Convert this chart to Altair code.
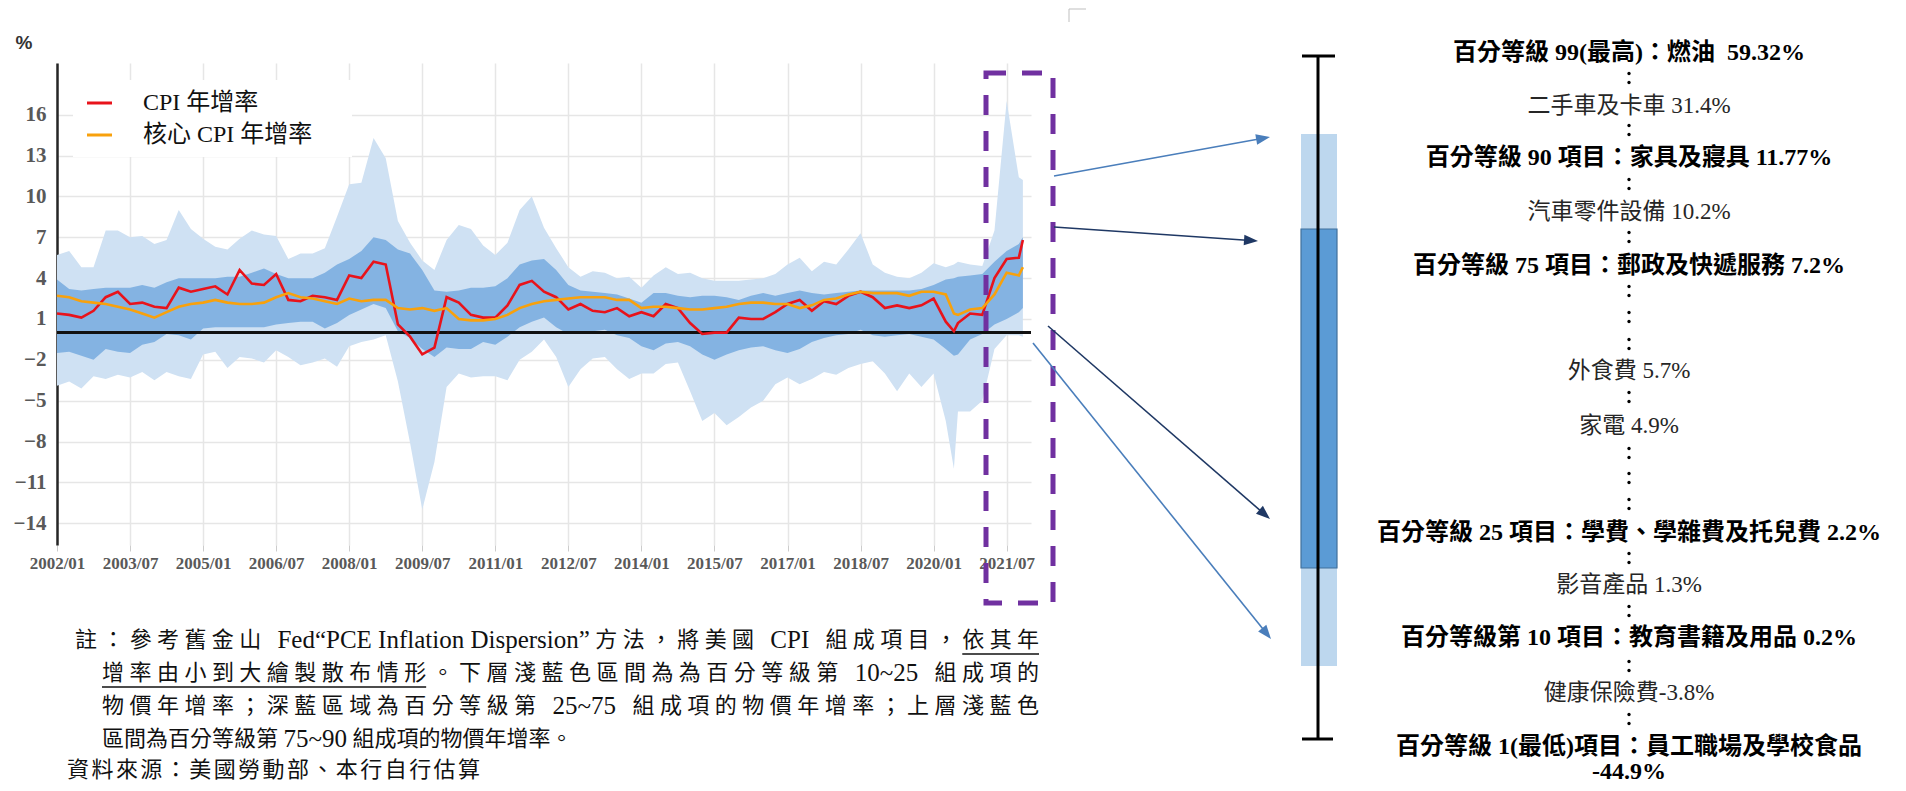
import math
import altair as alt
import pandas as pd

# ---------------- data ----------------
MONTHS = [
    "2002-01", "2002-04", "2002-07", "2002-10", "2003-01", "2003-04", "2003-07", "2003-10",
    "2004-01", "2004-04", "2004-07", "2004-10", "2005-01", "2005-04", "2005-07", "2005-10",
    "2006-01", "2006-04", "2006-07", "2006-10", "2007-01", "2007-04", "2007-07", "2007-10",
    "2008-01", "2008-04", "2008-07", "2008-10", "2009-01", "2009-04", "2009-07", "2009-10",
    "2010-01", "2010-04", "2010-07", "2010-10", "2011-01", "2011-04", "2011-07", "2011-10",
    "2012-01", "2012-04", "2012-07", "2012-10", "2013-01", "2013-04", "2013-07", "2013-10",
    "2014-01", "2014-04", "2014-07", "2014-10", "2015-01", "2015-04", "2015-07", "2015-10",
    "2016-01", "2016-04", "2016-07", "2016-10", "2017-01", "2017-04", "2017-07", "2017-10",
    "2018-01", "2018-04", "2018-07", "2018-10", "2019-01", "2019-04", "2019-07", "2019-10",
    "2020-01", "2020-04", "2020-06", "2020-07", "2020-10",
    "2021-01", "2021-04", "2021-07", "2021-10", "2021-11",
]

P90 = [5.7, 6.0, 4.8, 4.8, 7.5, 7.5, 7.0, 7.1, 6.5, 6.8,
       9.0, 7.6, 6.9, 6.3, 6.1, 6.9, 7.5, 7.2, 7.1, 5.4,
       5.8, 5.8, 6.2, 8.5, 10.9, 11.0, 14.3, 12.8, 8.2, 6.6,
       5.3, 4.6, 6.8, 7.9, 7.6, 6.4, 5.7, 6.6, 9.0, 10.0,
       7.7, 6.2, 4.8, 4.1, 4.5, 4.4, 4.0, 4.1, 3.3, 4.2,
       4.8, 4.3, 4.4, 4.0, 3.8, 3.8, 3.8, 3.9, 4.0, 4.3,
       5.0, 5.5, 4.5, 5.2, 5.0, 6.1, 7.3, 5.0, 4.4, 4.1,
       4.0, 4.4, 5.1, 4.8, 5.0, 5.2, 5.0, 4.9, 7.5, 17.0, 11.4, 11.2]

P75 = [3.9, 3.2, 3.1, 3.2, 3.3, 3.3, 3.3, 3.5, 3.3, 3.7,
       4.0, 4.0, 4.0, 4.0, 4.1, 4.1, 4.4, 4.7, 4.3, 4.0,
       4.0, 4.0, 4.4, 5.0, 5.4, 6.0, 7.0, 6.8, 6.1, 5.8,
       4.6, 3.1, 3.0, 3.1, 3.3, 3.3, 3.4, 4.0, 5.0, 5.3,
       5.4, 4.6, 3.5, 3.1, 3.0, 2.9, 2.8, 2.5, 2.2, 2.9,
       2.9, 2.7, 2.6, 2.7, 2.7, 2.6, 2.4, 2.7, 2.9, 2.7,
       2.9, 3.1, 2.9, 2.8, 2.9, 3.0, 3.1, 3.1, 3.1, 3.1,
       3.1, 3.2, 3.5, 3.9, 4.0, 4.1, 4.2, 4.3, 5.2, 6.0, 6.5, 7.0]

P25 = [-1.5, -1.4, -1.7, -2.0, -1.2, -1.4, -1.5, -0.9, -0.7, -0.1,
       -0.2, -0.5, 0.3, 0.4, 0.4, 0.4, 0.4, 0.4, 0.6, 0.7,
       0.8, 0.8, 0.3, 0.7, 1.3, 1.7, 2.1, 1.8, 0.1, -0.4,
       -1.2, -1.8, -1.1, -1.2, -1.2, -0.7, -0.9, -0.3, 0.4, 0.8,
       1.1, 0.4, -0.1, -0.1, 0.1, 0.2, -0.2, -0.4, -1.0, -1.3,
       -0.8, -0.7, -1.0, -1.6, -2.0, -1.6, -1.3, -1.1, -1.0, -1.3,
       -1.5, -1.2, -0.7, -0.4, -0.2, -0.1, 0.2, -0.2, -0.3, -0.2,
       -0.1, -0.3, -0.5, -1.2, -1.7, -1.6, -0.5, -0.1, 0.6, 1.0, 1.5, 1.8]

P10 = [-3.9, -3.6, -4.1, -3.2, -3.4, -3.1, -3.3, -2.9, -3.5, -2.9,
       -3.2, -3.4, -1.6, -1.4, -2.6, -1.8, -1.9, -2.2, -1.3, -1.8,
       -2.4, -2.2, -1.9, -2.5, -1.0, -0.7, -0.5, -0.2, -3.6, -8.1,
       -13.0, -9.5, -4.0, -3.0, -3.3, -3.2, -3.2, -3.5, -2.0, -1.4,
       -0.5, -1.8, -4.0, -2.7, -1.9, -1.8, -2.7, -3.4, -3.0, -3.0,
       -2.3, -2.2, -4.3, -6.5, -5.9, -6.8, -6.2, -5.5, -5.0, -3.8,
       -3.3, -3.8, -3.4, -2.9, -3.1, -2.6, -2.3, -2.1, -3.0, -4.3,
       -3.0, -4.0, -3.0, -6.5, -10.0, -5.8, -5.8, -5.0, -1.2, -0.2, -0.2, -0.3]

CPI = [1.4, 1.3, 1.1, 1.6, 2.6, 3.0, 2.1, 2.2, 1.9, 1.8,
       3.3, 3.0, 3.2, 3.4, 2.8, 4.6, 3.6, 3.5, 4.3, 2.4,
       2.3, 2.7, 2.6, 2.4, 4.2, 4.0, 5.2, 5.0, 0.6, -0.3,
       -1.6, -1.1, 2.6, 2.2, 1.3, 1.1, 1.1, 2.0, 3.5, 3.8,
       3.0, 2.6, 1.7, 2.1, 1.6, 1.5, 1.8, 1.2, 1.5, 1.2,
       2.1, 1.8, 0.7, -0.1, 0.0, 0.0, 1.1, 1.0, 1.0, 1.5,
       2.1, 2.4, 1.6, 2.3, 2.1, 2.7, 3.0, 2.6, 1.8, 2.0,
       1.8, 2.0, 2.5, 0.8, 0.1, 0.7, 1.4, 1.3, 4.0, 5.4, 5.5, 6.8]

CORE = [2.7, 2.6, 2.3, 2.2, 2.1, 1.9, 1.7, 1.4, 1.1, 1.5,
        1.9, 2.1, 2.2, 2.4, 2.2, 2.1, 2.1, 2.2, 2.6, 2.9,
        2.6, 2.5, 2.3, 2.1, 2.5, 2.3, 2.4, 2.4, 1.8, 1.7,
        1.8, 1.6, 1.8, 1.0, 0.9, 0.9, 1.0, 1.3, 1.8, 2.1,
        2.3, 2.4, 2.5, 2.6, 2.6, 2.6, 2.4, 2.4, 1.8, 1.9,
        1.9, 1.8, 1.7, 1.7, 1.8, 1.9, 2.1, 2.2, 2.2, 2.1,
        2.1, 1.8, 2.0, 2.4, 2.5, 2.8, 3.0, 2.9, 2.9, 2.9,
        2.7, 3.0, 3.0, 2.8, 1.4, 1.3, 1.7, 1.8, 2.8, 4.4, 4.2, 4.8]

Y_TICKS = [-14, -11, -8, -5, -2, 1, 4, 7, 10, 13, 16]
X_TICKS = [0, 18, 36, 54, 72, 90, 108, 126, 144, 162, 180, 198, 216, 234]  # months since 2002/01

LEGEND_LABELS = ["CPI 年增率", "核心 CPI 年增率"]
UNIT_LABEL = "%"

RIGHT_BOLD = [
    "百分等級 99(最高)：燃油 \u00a059.32%",
    "百分等級 90 項目：家具及寢具 11.77%",
    "百分等級 75 項目：郵政及快遞服務 7.2%",
    "百分等級 25 項目：學費、學雜費及托兒費 2.2%",
    "百分等級第 10 項目：教育書籍及用品 0.2%",
    "百分等級 1(最低)項目：員工職場及學校食品",
    "-44.9%",
]
RIGHT_REG = [
    "二手車及卡車 31.4%",
    "汽車零件設備 10.2%",
    "外食費 5.7%",
    "家電 4.9%",
    "影音產品 1.3%",
    "健康保險費-3.8%",
]
NOTE_LINES = [
    "註：參考舊金山 Fed“PCE Inflation Dispersion”方法，將美國 CPI 組成項目，依其年",
    "增率由小到大繪製散布情形。下層淺藍色區間為為百分等級第 10~25 組成項的",
    "物價年增率；深藍區域為百分等級第 25~75 組成項的物價年增率；上層淺藍色",
    "區間為百分等級第 75~90 組成項的物價年增率。",
]
SOURCE = "資料來源：美國勞動部、本行自行估算"

# ---------------- layout (page pixels) ----------------
OX, OY = 57, 63          # plot-area origin on the page
W, H = 974, 482          # plot-area size
PAD = {"left": OX - 8, "top": OY - 8, "right": 1890 - (OX - 8) - W, "bottom": 775 - (OY - 8) - H}
XDOM = [0, 240]
YDOM = [-15.6, 19.8]

LIGHT = "#cfe1f3"
DARK = "#84b3e2"
RED = "#e8131b"
ORANGE = "#f8a10c"
PURPLE = "#7030a0"
GRID = "#e6e6e6"
MIX = "Liberation Serif, Noto Sans CJK TC"

RIGHT_BOLD_Y = [53, 158, 266, 533, 638, 747, 772]
RIGHT_REG_Y = [106, 212, 371, 426, 585, 693]
RIGHT_TEXT_X = 1629
DOT_Y = [78, 130, 184, 237, 291, 317, 344, 397, 453, 478, 504, 558, 611, 666, 719]
NOTE_POS = [(75, 640, 1039), (102, 673, 1039), (102, 706, 1039), (102, 739, None)]
SOURCE_POS = (67, 770, 480)
NOTE_FS = 22
NOTE_LATIN_FS = 25

ARROWS = [
    (1054, 176, 1270, 137, "#4a7ebb"),
    (1054, 227, 1258, 241, "#1f3864"),
    (1048, 326, 1270, 519, "#1f3864"),
    (1033, 343, 1271, 639, "#4a7ebb"),
]


def X(v):
    return v - OX


def Y(v):
    return v - OY


def PX(f):
    return alt.X(f + ":Q", scale=None, axis=None)


def PY(f):
    return alt.Y(f + ":Q", scale=None, axis=None)


def rules_layer(rows):
    d = pd.DataFrame([(X(a), Y(b), X(c), Y(e), col, w) for a, b, c, e, col, w in rows],
                     columns=["x", "y", "x2", "y2", "c", "w"])
    return alt.Chart(d).mark_rule().encode(
        x=PX("x"), y=PY("y"), x2="x2:Q", y2="y2:Q",
        color=alt.Color("c:N", scale=None),
        strokeWidth=alt.StrokeWidth("w:Q", scale=None))


def rect_layer(x0, y0, x1, y1, **mark):
    d = pd.DataFrame({"x": [X(x0)], "y": [Y(y0)], "x2": [X(x1)], "y2": [Y(y1)]})
    return alt.Chart(d).mark_rect(**mark).encode(x=PX("x"), y=PY("y"), x2="x2:Q", y2="y2:Q")


def text_layer(rows, size, weight="normal", color="#000000", align="center", font=MIX):
    d = pd.DataFrame([(X(a), Y(b), t) for a, b, t in rows], columns=["x", "y", "t"])
    return alt.Chart(d).mark_text(fontSize=size, fontWeight=weight, color=color, align=align,
                                  baseline="middle", font=font).encode(
        x=PX("x"), y=PY("y"), text="t:N")


def points_layer(rows, shape, size):
    d = pd.DataFrame([(X(a), Y(b), ang, c) for a, b, ang, c in rows], columns=["x", "y", "a", "c"])
    return alt.Chart(d).mark_point(shape=shape, filled=True, size=size, opacity=1, strokeWidth=0).encode(
        x=PX("x"), y=PY("y"), angle=alt.Angle("a:Q", scale=None), color=alt.Color("c:N", scale=None))


# ---- justified note text (per-token placement) ----
TW = {' ': 0.25, 'F': 0.556, 'e': 0.444, 'd': 0.5, 'P': 0.556, 'C': 0.667, 'E': 0.611, 'I': 0.333,
      'n': 0.5, 'f': 0.333, 'l': 0.278, 'a': 0.444, 't': 0.278, 'i': 0.278, 'o': 0.5, 'D': 0.722,
      's': 0.389, 'p': 0.5, 'r': 0.333, '\u201c': 0.444, '\u201d': 0.444, '~': 0.541, '.': 0.25}


def is_wide(ch):
    return ord(ch) >= 0x2E80


def tokens(s):
    """CJK chars are single tokens; a Latin run is one token; spaces next to CJK are own tokens."""
    out, buf = [], ""

    def flush(b):
        if not b:
            return
        lead = len(b) - len(b.lstrip(" "))
        core = b.strip(" ")
        trail = len(b) - len(b.rstrip(" ")) if core else 0
        out.extend([" "] * lead)
        if core:
            out.append(core)
        out.extend([" "] * trail)

    for ch in s:
        if is_wide(ch):
            flush(buf)
            buf = ""
            out.append(ch)
        else:
            buf += ch
    flush(buf)
    return out


def tok_w(t, fs, lfs):
    if len(t) == 1 and is_wide(t):
        return fs
    if t == " ":
        return 0.25 * fs
    return sum(TW.get(c, 0.5) for c in t) * lfs


def layout(s, x0, y, fs, lfs, x_end=None):
    toks = tokens(s)
    ws = [tok_w(t, fs, lfs) for t in toks]
    gap = 0.0 if x_end is None else (x_end - x0 - sum(ws)) / (len(toks) - 1)
    placed, x = [], x0
    for t, w in zip(toks, ws):
        placed.append((x, w, t))
        x += w + gap
    return placed


# ---------------- main chart layers ----------------
df = pd.DataFrame({"month": MONTHS, "p10": P10, "p25": P25, "p75": P75, "p90": P90,
                   "cpi": CPI, "core": CORE})
df["m"] = (df["month"].str[:4].astype(int) - 2002) * 12 + df["month"].str[5:].astype(int) - 1

XS = alt.Scale(domain=XDOM, nice=False, zero=False)
YS = alt.Scale(domain=YDOM, nice=False, zero=False)

x_axis = alt.Axis(values=X_TICKS, title=None,
                  labelExpr="(2002 + floor(datum.value / 12)) + '/' + ((datum.value % 12) + 1 < 10 ? '0' : '') + ((datum.value % 12) + 1)",
                  grid=True, gridColor=GRID, gridWidth=1.5, domain=False, ticks=True, tickSize=6,
                  tickColor="#cccccc", labelFont="Liberation Serif", labelFontSize=17,
                  labelFontWeight="bold", labelColor="#595959", labelPadding=4,
                  labelFlush=False, labelOverlap=False)
y_axis = alt.Axis(values=Y_TICKS, title=None, grid=True, gridColor=GRID, gridWidth=1.5,
                  domain=True, domainColor="#262626", domainWidth=2.5, ticks=False,
                  labelFont="Liberation Serif", labelFontSize=21, labelFontWeight="bold",
                  labelColor="#595959", labelPadding=11, labelOverlap=False)

legend_box = rect_layer(73, 80, 352, 157, color="#ffffff")

light = alt.Chart(df).mark_area(color=LIGHT, opacity=1).encode(
    x=alt.X("m:Q", scale=XS, axis=x_axis),
    y=alt.Y("p10:Q", scale=YS, axis=y_axis),
    y2="p90:Q")
dark = alt.Chart(df).mark_area(color=DARK, opacity=1).encode(
    x=alt.X("m:Q", scale=XS, axis=None),
    y=alt.Y("p25:Q", scale=YS, axis=None),
    y2="p75:Q")
zero = alt.Chart(pd.DataFrame({"v": [0]})).mark_rule(color="#111111", strokeWidth=3).encode(
    y=alt.Y("v:Q", scale=YS, axis=None), x=alt.value(0), x2=alt.value(W))
red = alt.Chart(df).mark_line(color=RED, strokeWidth=2.6).encode(
    x=alt.X("m:Q", scale=XS, axis=None), y=alt.Y("cpi:Q", scale=YS, axis=None))
orange = alt.Chart(df).mark_line(color=ORANGE, strokeWidth=2.6).encode(
    x=alt.X("m:Q", scale=XS, axis=None), y=alt.Y("core:Q", scale=YS, axis=None))

legend_rules = rules_layer([(87, 103, 112, 103, RED, 3), (87, 135, 112, 135, ORANGE, 3)])
legend_text = text_layer([(143, 103, LEGEND_LABELS[0]), (143, 135, LEGEND_LABELS[1])], 24,
                         align="left", color="#111111")
unit_text = text_layer([(24, 43, UNIT_LABEL)], 19, weight="bold", color="#333333",
                       font="Liberation Sans")

dashed_box = rect_layer(986, 73, 1053, 603, fill="#ffffff", fillOpacity=0, stroke=PURPLE,
                        strokeWidth=5, strokeDash=[20, 16])

# ---- arrows ----
HEAD = 7
arrow_rule_rows, arrow_head_rows = [], []
for x0, y0, x1, y1, c in ARROWS:
    L = math.hypot(x1 - x0, y1 - y0)
    ux, uy = (x1 - x0) / L, (y1 - y0) / L
    arrow_rule_rows.append((x0, y0, x1 - ux * 1.6 * HEAD, y1 - uy * 1.6 * HEAD, c, 1.6))
    ang = math.degrees(math.atan2(ux, -uy)) % 360
    arrow_head_rows.append((x1 - ux * HEAD, y1 - uy * HEAD, ang, c))
arrow_rules = rules_layer(arrow_rule_rows)
arrow_heads = points_layer(arrow_head_rows, "M0,-1L0.75,1L-0.75,1Z", (2 * HEAD) ** 2)

# ---- right panel ----
light_bar = rect_layer(1301, 134, 1337, 666, color="#bdd7ee")
dark_bar = rect_layer(1301, 229, 1337, 568, color="#5b9bd5", stroke="#41719c", strokeWidth=1.2)
whisker = rules_layer([(1318, 56, 1318, 739, "#000000", 3),
                       (1302, 56, 1335, 56, "#000000", 3),
                       (1302, 739, 1333, 739, "#000000", 3)])
right_bold = text_layer(list(zip([RIGHT_TEXT_X] * len(RIGHT_BOLD), RIGHT_BOLD_Y, RIGHT_BOLD)), 24,
                        weight="bold", color="#000000")
right_reg = text_layer(list(zip([RIGHT_TEXT_X] * len(RIGHT_REG), RIGHT_REG_Y, RIGHT_REG)), 23,
                       color="#262626")
dot_rows = []
for yy in DOT_Y:
    dot_rows.append((RIGHT_TEXT_X, yy - 4.5, 0, "#000000"))
    dot_rows.append((RIGHT_TEXT_X, yy + 4.5, 0, "#000000"))
dots = points_layer(dot_rows, "circle", 11)

# ---- notes ----
cjk_rows, latin_rows, placed_lines = [], [], []
all_lines = NOTE_LINES + [SOURCE]
all_pos = NOTE_POS + [SOURCE_POS]
for line, (nx, ny, nend) in zip(all_lines, all_pos):
    placed = layout(line, nx, ny, NOTE_FS, NOTE_LATIN_FS, nend)
    placed_lines.append(placed)
    for px, w, t in placed:
        if t == " ":
            continue
        if len(t) == 1 and is_wide(t):
            cjk_rows.append((px, ny, t))
        else:
            latin_rows.append((px, ny, t))
notes_cjk = text_layer(cjk_rows, NOTE_FS, align="left", color="#111111")
notes_latin = text_layer(latin_rows, NOTE_LATIN_FS, align="left", color="#111111")

# underline "依其年" (line 1) and "增率由小到大繪製散布情形" (line 2)
p1 = placed_lines[0]
u1_start = [px for px, w, t in p1 if t == "依"][-1]
u1_end = p1[-1][0] + p1[-1][1]
p2 = placed_lines[1]
u2_end = [px + w for px, w, t in p2 if t == "形"][0]
underlines = rules_layer([(u1_start, NOTE_POS[0][1] + 14, u1_end, NOTE_POS[0][1] + 14, "#111111", 1.5),
                          (NOTE_POS[1][0], NOTE_POS[1][1] + 14, u2_end, NOTE_POS[1][1] + 14, "#111111", 1.5)])

corner = rules_layer([(1069, 9, 1086, 9, "#bfbfbf", 1), (1069, 9, 1069, 22, "#bfbfbf", 1)])

chart = alt.layer(
    legend_box, light, dark, zero, red, orange,
    legend_rules, legend_text, unit_text, dashed_box,
    arrow_rules, arrow_heads,
    light_bar, dark_bar, whisker, right_bold, right_reg, dots,
    notes_cjk, notes_latin, underlines, corner,
).resolve_scale(x="independent", y="independent").properties(
    width=W, height=H, padding=PAD, autosize=alt.AutoSizeParams(type="none")
).configure_view(strokeWidth=0)

chart.save("out.html", embed_options={"renderer": "svg", "actions": False})
